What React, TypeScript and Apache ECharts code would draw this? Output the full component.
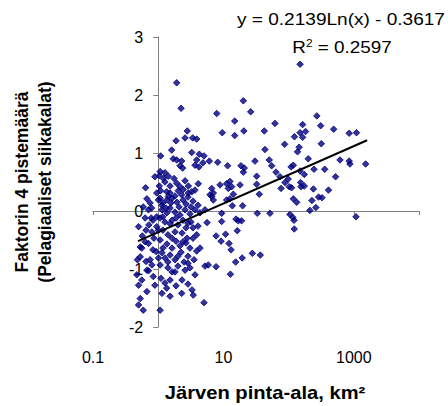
import React, { useEffect, useRef } from 'react';
import * as echarts from 'echarts';

// [lake area km², factor 4 score]
const observations: [number, number][] = [
  [0.64, 0.40], [0.59, 0.07], [0.71, 0.02], [0.75, 0.14], [0.79, 0.05], [0.83, -0.16],
  [0.63, -0.12], [0.50, -0.27], [0.72, -0.24], [0.53, -0.62], [0.71, -0.56], [0.80, -0.36],
  [0.48, -0.84], [0.75, -0.84], [0.63, -0.53], [0.56, -0.64], [0.47, -1.10], [0.67, -1.02],
  [0.56, -1.19], [0.50, -1.28], [0.67, -1.39], [0.53, -1.51], [0.50, -1.62], [0.59, -1.71],
  [0.84, -1.13], [0.89, 0.59], [0.95, 0.31], [0.95, -0.10], [0.93, -0.70], [0.65, -0.87],
  [0.53, -0.79], [0.71, -1.03], [0.95, -0.27], [0.86, -0.47], [0.80, -0.93], [0.89, -1.28],
  [0.65, -0.33], [0.57, -0.43], [0.83, -0.67], [0.78, -0.12], [0.67, 0.21],
  [1.09, 0.95], [1.70, 0.90], [1.92, 0.88], [2.29, 0.86], [2.16, 0.78], [2.37, 0.74],
  [3.67, 0.79], [3.89, 0.88], [1.61, 1.05], [3.27, 1.01], [1.88, 1.21], [2.58, 1.26],
  [3.38, 1.26], [3.89, 1.24], [2.79, 1.38], [2.24, 1.77], [1.92, 2.21], [1.27, 0.66],
  [1.04, 0.61], [1.20, 0.56], [1.43, 0.60], [1.75, 0.56], [2.58, 0.52], [1.07, 0.68],
  [1.04, 0.43], [1.09, 0.35], [1.35, 0.33], [1.52, 0.31], [1.43, 0.25], [1.92, 0.48],
  [2.16, 0.42], [2.03, 0.35], [2.43, 0.37], [2.90, 0.43], [3.27, 0.33], [3.67, 0.36],
  [4.12, 0.47], [1.81, 0.26], [2.29, 0.28], [2.90, 0.31], [1.07, 0.22], [1.18, 0.14],
  [1.36, 0.19], [1.63, 0.22], [1.94, 0.15], [2.40, 0.19], [2.86, 0.24], [3.42, 0.17],
  [4.08, 0.10], [1.14, 0.02], [1.36, -0.03], [1.52, 0.05], [1.81, -0.02], [2.16, -0.07],
  [2.58, 0.02], [3.07, -0.05], [3.67, 0.02], [4.38, -0.03], [1.07, -0.12], [1.27, -0.19],
  [1.63, -0.16], [2.01, -0.24], [2.40, -0.16], [2.86, -0.21], [3.42, -0.29], [4.08, -0.26],
  [1.18, -0.33], [1.41, -0.41], [1.81, -0.36], [2.32, -0.38], [2.77, -0.47], [3.89, -0.41],
  [1.07, -0.50], [1.36, -0.57], [1.63, -0.64], [1.88, -0.52], [2.16, -0.60], [2.67, -0.55],
  [3.07, -0.64], [4.38, -0.64], [3.89, -0.69], [1.14, -0.72], [1.27, -0.81], [1.52, -0.76],
  [1.81, -0.84], [2.01, -0.78], [2.49, -0.88], [2.86, -0.78], [3.54, -0.84], [1.07, -0.93],
  [1.41, -0.98], [1.63, -1.05], [2.01, -0.95], [2.58, -1.02], [3.07, -0.98], [3.67, -1.10],
  [1.10, -1.16], [1.27, -1.24], [1.52, -1.19], [1.88, -1.29], [2.32, -1.19], [2.86, -1.26],
  [3.30, -1.36], [1.14, -1.42], [1.52, -1.47], [2.29, -1.42], [1.07, -1.71], [3.45, -1.45],
  [1.35, -1.33], [1.01, 0.19], [1.14, 0.10], [1.32, 0.05], [1.57, 0.14], [2.09, 0.07],
  [2.67, 0.12], [3.18, 0.07], [1.18, -0.10], [1.52, -0.22], [1.88, -0.12], [2.67, -0.29],
  [3.18, -0.19], [1.01, -0.33], [1.63, -0.47], [2.40, -0.53], [3.42, -0.47], [1.18, -0.64],
  [2.24, -0.71], [1.41, -0.88], [1.01, -0.81], [2.86, -0.90], [1.81, -1.05], [1.52, 0.43],
  [1.27, 0.50],
  [20.2, 1.90], [26.2, 1.71], [7.9, 1.68], [14.9, 1.55], [9.6, 1.35], [20.6, 1.38],
  [14.9, 1.30], [4.27, 0.98], [5.04, 0.95], [6.08, 0.86], [8.18, 0.84], [11.6, 0.78],
  [18.6, 0.78], [20.9, 0.74], [20.2, 0.67], [30.5, 0.86], [32.4, 0.60], [6.62, 0.39],
  [7.00, 0.31], [8.87, 0.45], [11.2, 0.47], [12.6, 0.51], [13.4, 0.42], [11.9, 0.39],
  [18.0, 0.45], [32.4, 0.46], [35.5, 0.29], [6.62, 0.25], [7.00, 0.19], [11.2, 0.19],
  [12.6, 0.21], [13.7, 0.09], [19.7, 0.09], [5.22, 0.02], [9.4, -0.04], [9.4, -0.18],
  [15.6, -0.14], [16.9, -0.17], [19.0, -0.17], [33.1, -0.04], [5.61, -0.20], [7.72, -0.43],
  [10.8, -0.40], [16.3, -0.34], [9.2, -0.52], [12.2, -0.56], [13.1, -0.67], [27.8, -0.73],
  [36.8, -0.76], [19.4, -0.81], [15.4, -0.88], [5.22, -0.95], [5.86, -0.93], [7.72, -0.96],
  [12.8, -1.09], [5.04, -1.58], [4.22, 0.76], [4.86, 0.83], [14.2, 0.29], [6.23, 0.28],
  [150, 2.53], [271, 1.64], [61.8, 1.51], [42.4, 1.38], [164, 1.49], [310, 1.47],
  [491, 1.41], [850, 1.34], [1100, 1.35], [150, 1.35], [182, 1.37], [123, 1.28],
  [164, 1.27], [86.9, 1.15], [317, 1.16], [145, 1.10], [137, 1.02], [43.4, 1.06],
  [50.5, 0.88], [55.0, 0.78], [64.1, 0.67], [200, 0.90], [614, 0.88], [850, 0.86],
  [873, 0.81], [1520, 0.81], [118, 0.79], [109, 0.76], [245, 0.72], [358, 0.72],
  [150, 0.69], [174, 0.63], [98.6, 0.55], [525, 0.59], [88, 0.49], [153, 0.49],
  [155, 0.42], [174, 0.43], [102, 0.42], [111, 0.40], [240, 0.38], [409, 0.36],
  [118, 0.21], [228, 0.18], [288, 0.24], [325, 0.23], [133, 0.15], [262, 0.06],
  [212, 0.01], [1080, -0.10], [105, -0.06], [116, -0.11], [121, -0.16], [122, -0.31],
  [73.8, 0.59], [76.6, 0.39], [51.8, -0.04],
];

// logarithmic trend line end points
const trendArea = [0.49, 1600];
const trendScore = [-0.52, 1.22];

const xMin = 0.1;
const xMax = 10000;
const xTickValues = [0.1, 10, 1000];
const xTickLabels = ['0.1', '10', '1000'];
const yMin = -2;
const yMax = 3;
const yStep = 1;
const yCrossArea = 1;

const equationText = 'y = 0.2139Ln(x) - 0.3617';
const r2Value = '0.2597';
const xTitle = 'Järven pinta-ala, km²';
const yTitle = ['Faktorin 4 pistemäärä', '(Pelagiaaliset siikakalat)'];

const FONT = 'Liberation Sans, Arial, Helvetica, sans-serif';
const W = 448;
const H = 406;
const GRID = { left: 93, right: 29, top: 37, bottom: 79 };

export default function App() {
  const ref = useRef<HTMLDivElement>(null);
  useEffect(() => {
    if (!ref.current) return;
    const chart = echarts.init(ref.current, undefined, { renderer: 'svg' });
    const gridW = W - GRID.left - GRID.right;
    const decades = Math.log10(xMax) - Math.log10(xMin);
    const yAxisOffset = -gridW * (Math.log10(yCrossArea) - Math.log10(xMin)) / decades;
    const axisColor = '#808080';
    chart.setOption({
      animation: false,
      grid: { ...GRID, containLabel: false, outerBoundsMode: 'none' },
      xAxis: [
        {
          type: 'log', logBase: 10, min: xMin, max: xMax,
          axisLine: { show: true, onZero: true, lineStyle: { color: axisColor, width: 1 } },
          axisTick: { show: true, length: 4, lineStyle: { color: axisColor } },
          axisLabel: { show: false },
          splitLine: { show: false },
          minorTick: { show: false },
        },
        {
          type: 'log', logBase: 10, min: xMin, max: xMax, position: 'bottom',
          axisLine: { show: false, onZero: false },
          axisTick: { show: false },
          splitLine: { show: false },
          axisLabel: {
            show: true, interval: 0, margin: 22, fontSize: 16, color: '#000', fontFamily: FONT,
            formatter: (v: number) => {
              const i = xTickValues.findIndex((t) => Math.abs(Math.log10(t) - Math.log10(v)) < 0.01);
              return i >= 0 ? xTickLabels[i] : '';
            },
          },
        },
      ],
      yAxis: {
        type: 'value', min: yMin, max: yMax, interval: yStep, position: 'left', offset: yAxisOffset,
        axisLine: { show: true, onZero: false, lineStyle: { color: axisColor, width: 1 } },
        axisTick: { show: true, length: 5, lineStyle: { color: axisColor } },
        axisLabel: { fontSize: 16, color: '#000', fontFamily: FONT, margin: 15 },
        splitLine: { show: false },
      },
      series: [
        {
          type: 'scatter',
          xAxisIndex: 0,
          data: observations,
          symbol: 'diamond',
          symbolSize: 6.5,
          itemStyle: { color: '#000080', borderColor: '#000080', borderWidth: 1 },
          z: 2,
        },
        {
          type: 'line',
          xAxisIndex: 0,
          data: trendArea.map((x, i) => [x, trendScore[i]]),
          symbol: 'none',
          lineStyle: { color: '#000', width: 2 },
          z: 3,
        },
      ],
      graphic: [
        {
          type: 'text', x: 341, y: 20, scaleX: 1.19,
          style: { text: equationText, fontSize: 16, fontFamily: FONT, fill: '#000', align: 'center', verticalAlign: 'middle' },
        },
        {
          type: 'text', x: 342, y: 48, scaleX: 1.18,
          style: {
            text: '{n|R}{s|2}{n| = ' + r2Value + '}',
            align: 'center', verticalAlign: 'middle', fill: '#000',
            rich: {
              n: { fontSize: 16, fontFamily: FONT, lineHeight: 20, fill: '#000' },
              s: { fontSize: 10, fontFamily: FONT, lineHeight: 10, verticalAlign: 'top', fill: '#000' },
            },
          },
        },
        {
          type: 'text', x: 265, y: 393, scaleX: 1.12,
          style: { text: xTitle, fontSize: 18, fontWeight: 'bold', fontFamily: FONT, fill: '#000', align: 'center', verticalAlign: 'middle' },
        },
        {
          type: 'text', x: 33, y: 182, rotation: Math.PI / 2, scaleY: 1.05,
          style: { text: yTitle.join('\n'), fontSize: 17.5, lineHeight: 22, fontWeight: 'bold', fontFamily: FONT, fill: '#000', align: 'center', verticalAlign: 'middle' },
        },
      ],
    });
    return () => chart.dispose();
  }, []);
  return <div ref={ref} style={{ position: 'absolute', left: 0, top: 0, width: W, height: H }} />;
}
